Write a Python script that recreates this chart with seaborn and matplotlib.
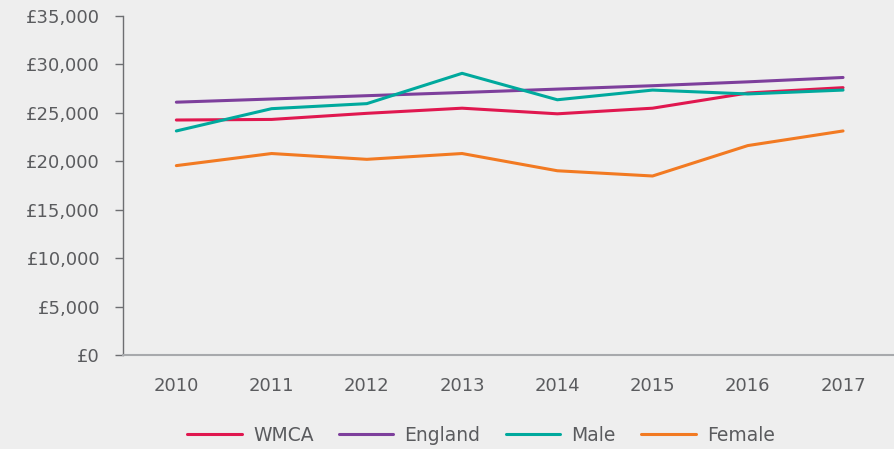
import pandas as pd
import numpy as np
import matplotlib.pyplot as plt
import seaborn as sns

# values
years = [2010, 2011, 2012, 2013, 2014, 2015, 2016, 2017]
wmca = [24260, 24320, 24950, 25480, 24900, 25480, 27050, 27600]
england = [26100, 26430, 26770, 27100, 27450, 27800, 28200, 28650]
male = [23130, 25430, 25950, 29080, 26350, 27350, 26950, 27350]
female = [19550, 20800, 20200, 20800, 19020, 18480, 21620, 23130]

series_names = ["WMCA", "England", "Male", "Female"]
colours = ["#e0174f", "#7d3f9c", "#00a99d", "#f27a22"]

df = pd.DataFrame({"year": years, "WMCA": wmca, "England": england,
                   "Male": male, "Female": female})
long_df = df.melt(id_vars="year", var_name="series", value_name="pay")

bg = "#eeeeee"
text_col = "#5a5b5e"

sns.set_style("white")
plt.rcParams['font.family'] = ['DejaVu Sans']

fig = plt.figure(figsize=(8.94, 4.49), dpi=100, facecolor=bg)
ax = fig.add_axes([0.1376, 0.2094, 0.8624, 0.7550])
ax.set_facecolor(bg)

sns.lineplot(data=long_df, x="year", y="pay", hue="series", hue_order=series_names,
             palette=colours, linewidth=2.2, ax=ax, legend=False)

ax.set_xlim(2009.44, 2017.535)
ax.set_ylim(0, 35000)
ax.set_xticks(years)
ax.set_xticklabels([str(y) for y in years])
ax.set_yticks(np.arange(0, 35001, 5000))
ax.set_yticklabels(["£{:,}".format(v) for v in range(0, 35001, 5000)])
ax.set_xlabel("")
ax.set_ylabel("")

for s in ["top", "right"]:
    ax.spines[s].set_visible(False)
ax.spines["left"].set_color("#6d6e71")
ax.spines["left"].set_linewidth(1.0)
ax.spines["bottom"].set_color("#a7a9ac")
ax.spines["bottom"].set_linewidth(1.5)

# y ticks stick out to the left of the axis line
ax.tick_params(axis="y", left=True, length=6, width=1, color="#6d6e71",
               labelsize=13, pad=10.5, labelcolor=text_col)
ax.tick_params(axis="x", bottom=False, length=0, labelsize=13, pad=16, labelcolor=text_col)
ax.grid(False)

handles = [plt.Line2D([], [], color=c, linewidth=2.2) for c in colours]
fig.legend(handles, series_names, loc="center", bbox_to_anchor=(0.538, 0.031),
           ncol=4, frameon=False, fontsize=13.5, labelcolor=text_col,
           handlelength=2.9, handletextpad=0.6, columnspacing=1.35)

fig.savefig("out.png", dpi=100, facecolor=bg)
